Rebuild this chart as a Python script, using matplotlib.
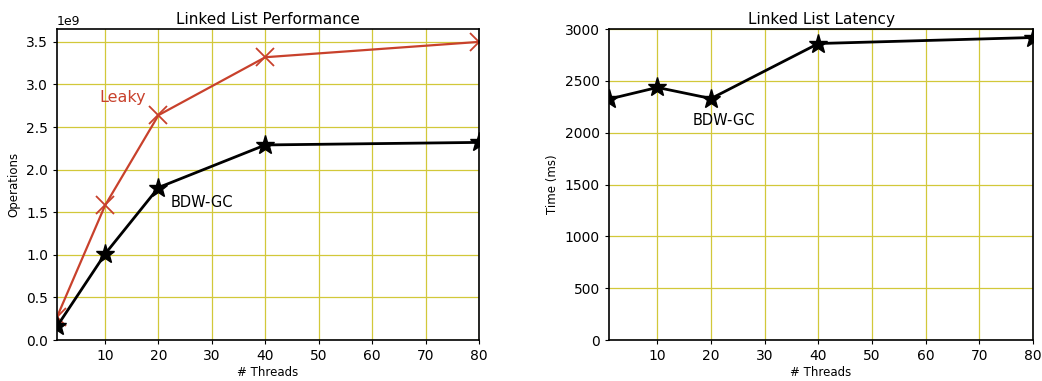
import matplotlib
matplotlib.use("Agg")
import matplotlib.pyplot as plt

# data
threads = [1, 10, 20, 40, 80]
leaky_ops = [0.27e9, 1.58e9, 2.64e9, 3.32e9, 3.50e9]
bdw_ops = [0.16e9, 1.01e9, 1.79e9, 2.29e9, 2.32e9]
bdw_latency = [2325, 2437, 2330, 2861, 2919]

red = "#c8412c"
grid_col = "#d2c83a"

fig = plt.figure(figsize=(10.42, 3.81), dpi=100)
ax1 = fig.add_axes([0.0547, 0.1076, 0.405, 0.816])
ax2 = fig.add_axes([0.5845, 0.1076, 0.407, 0.816])

# performance
ax1.plot(threads, leaky_ops, color=red, marker="x", markersize=13,
         markeredgewidth=1.3, linewidth=1.6)
ax1.plot(threads, bdw_ops, color="black", marker="*", markersize=14,
         linewidth=2)
ax1.text(9, 2.85e9, "Leaky", color=red, fontsize=11.5, va="center")
ax1.text(22.2, 1.61e9, "BDW-GC", color="black", fontsize=10.5, va="center")
ax1.set_xlim(1, 80)
ax1.set_ylim(0, 3.65e9)
ax1.set_xticks([10, 20, 30, 40, 50, 60, 70, 80])
ax1.set_yticks([0, 0.5e9, 1e9, 1.5e9, 2e9, 2.5e9, 3e9, 3.5e9])
ax1.set_title("Linked List Performance", fontsize=11, pad=4)
ax1.set_xlabel("# Threads", fontsize=8.5, labelpad=2)
ax1.set_ylabel("Operations", fontsize=8.5)

# latency
ax2.plot(threads, bdw_latency, color="black", marker="*", markersize=14,
         linewidth=2)
ax2.text(16.5, 2115, "BDW-GC", color="black", fontsize=10.5, va="center")
ax2.set_xlim(1, 80)
ax2.set_ylim(0, 3000)
ax2.set_xticks([10, 20, 30, 40, 50, 60, 70, 80])
ax2.set_yticks([0, 500, 1000, 1500, 2000, 2500, 3000])
ax2.set_title("Linked List Latency", fontsize=11, pad=4)
ax2.set_xlabel("# Threads", fontsize=8.5, labelpad=2)
ax2.set_ylabel("Time (ms)", fontsize=8.5)

for ax in (ax1, ax2):
    ax.grid(True, color=grid_col, linewidth=0.9)
    ax.set_axisbelow(True)
    ax.tick_params(labelsize=10, length=3)
    for sp in ax.spines.values():
        sp.set_linewidth(1.2)
ax1.yaxis.get_offset_text().set_fontsize(9)

fig.savefig("out.png", dpi=100)
